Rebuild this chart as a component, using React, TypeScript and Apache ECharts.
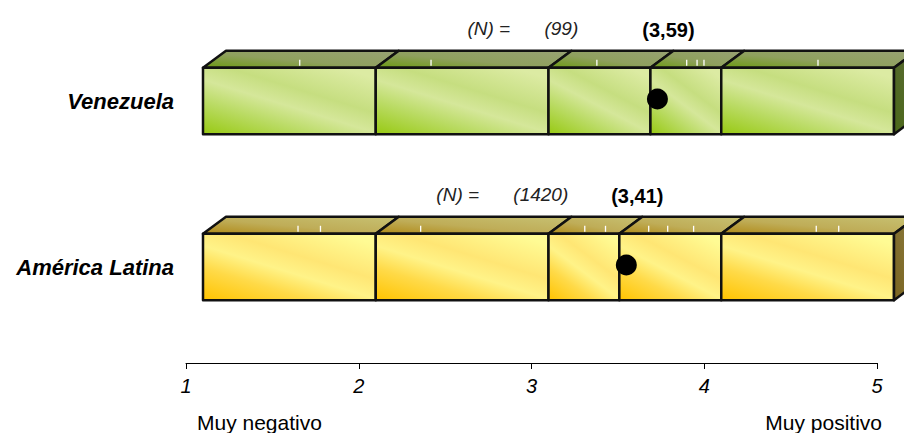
import React, { useEffect, useRef } from 'react';
import * as echarts from 'echarts';

// ---- data ----
const categories = ['América Latina', 'Venezuela'];
const boundaries = [1, 2, 3, 4, 5];
const means = [3.41, 3.59];
const nCounts = [1420, 99];
const topTicks = [
  [1.55, 1.68, 2.26, 3.21, 3.33, 3.58, 3.69, 3.84, 4.55, 4.68],
  [1.56, 2.32, 3.28, 3.8, 3.86, 3.9, 4.56],
];
const xTickValues = [1, 2, 3, 4, 5];
const scaleLabels = ['Muy negativo', 'Muy positivo'];

// ---- styles ----
const FONT = 'Liberation Sans, Arial, Helvetica, sans-serif';
const SHIFT = 17; // projection shift of the front face
const DX = 23;
const DY = 17;
const STROKE = '#111';
const LW = 2.5;

const grad = (x2: number, y2: number, stops: [number, string][]) => ({
  type: 'linear',
  x: 0,
  y: 1,
  x2,
  y2,
  colorStops: stops.map(([offset, color]) => ({ offset, color })),
});

const palettes = [
  {
    front: grad(0.8, 0, [
      [0, '#ffc300'],
      [0.3, '#ffda48'],
      [0.5, '#fff388'],
      [0.68, '#ffe674'],
      [1, '#fffb94'],
    ]),
    top: grad(1, 0, [
      [0, '#b08a18'],
      [0.45, '#bfad58'],
      [1, '#c7c172'],
    ]),
    side: grad(1, 0, [
      [0, '#7a6420'],
      [1, '#8c7c40'],
    ]),
  },
  {
    front: grad(0.8, 0, [
      [0, '#97c912'],
      [0.3, '#badb64'],
      [0.5, '#d5e79a'],
      [0.68, '#c6de80'],
      [1, '#dceba3'],
    ]),
    top: grad(1, 0, [
      [0, '#6c9a12'],
      [0.45, '#8fa05e'],
      [1, '#98a274'],
    ]),
    side: grad(1, 0, [
      [0, '#4a6818'],
      [1, '#5c6b38'],
    ]),
  },
];

function buildSegments() {
  const segs: number[][] = [];
  categories.forEach((_, row) => {
    const pts = [...boundaries, means[row]].sort((a, b) => a - b);
    for (let i = 0; i < pts.length - 1; i++) {
      segs.push([pts[i], pts[i + 1], row, i === pts.length - 2 ? 1 : 0]);
    }
  });
  return segs;
}

function buildTicks() {
  const t: number[][] = [];
  topTicks.forEach((arr, row) => arr.forEach((v) => t.push([v, row])));
  return t;
}

const fmt = (v: number) => v.toFixed(2).replace('.', ',');

export default function App() {
  const ref = useRef<HTMLDivElement>(null);

  useEffect(() => {
    if (!ref.current) return;
    const chart = echarts.init(ref.current, null, { renderer: 'svg' });

    const option: any = {
      animation: false,
      backgroundColor: '#fff',
      grid: { left: 186, right: 27, top: 18, bottom: 83 },
      xAxis: {
        type: 'value',
        min: 1,
        max: 5,
        interval: 1,
        offset: 13,
        splitLine: { show: false },
        axisLine: { show: true, lineStyle: { color: '#000', width: 1 } },
        axisTick: { show: true, length: 6, lineStyle: { color: '#000' } },
        axisLabel: {
          margin: 13,
          fontSize: 20,
          fontStyle: 'italic',
          color: '#000',
          fontFamily: FONT,
          formatter: (v: number) => (xTickValues.includes(v) ? String(v) : ''),
        },
      },
      yAxis: {
        type: 'category',
        data: categories,
        axisLine: { show: false },
        axisTick: { show: false },
        splitLine: { show: false },
        axisLabel: {
          margin: 12,
          fontSize: 22,
          fontWeight: 'bold',
          fontStyle: 'italic',
          color: '#000',
          fontFamily: FONT,
          padding: [28, 0, 0, 0],
        },
      },
      series: [
        {
          type: 'custom',
          name: 'boxes',
          data: buildSegments(),
          encode: { x: [0, 1], y: 2 },
          z: 2,
          renderItem: (params: any, api: any) => {
            const s = api.value(0);
            const e = api.value(1);
            const row = api.value(2);
            const last = api.value(3);
            const p1 = api.coord([s, row]);
            const p2 = api.coord([e, row]);
            const band = api.size([0, 1])[1];
            const h = band * 0.2;
            const x1 = p1[0] + SHIFT;
            const x2 = p2[0] + SHIFT;
            const yt = p1[1] - h;
            const yb = p1[1] + h;
            const pal = palettes[row];
            const children: any[] = [
              {
                type: 'polygon',
                shape: {
                  points: [
                    [x1, yt],
                    [x2, yt],
                    [x2 + DX, yt - DY],
                    [x1 + DX, yt - DY],
                  ],
                },
                style: { fill: pal.top, stroke: STROKE, lineWidth: LW, lineJoin: 'round' },
              },
              {
                type: 'rect',
                shape: { x: x1, y: yt, width: x2 - x1, height: yb - yt },
                style: { fill: pal.front, stroke: STROKE, lineWidth: LW, lineJoin: 'round' },
              },
            ];
            if (last) {
              children.push({
                type: 'polygon',
                shape: {
                  points: [
                    [x2, yt],
                    [x2 + DX, yt - DY],
                    [x2 + DX, yb - DY],
                    [x2, yb],
                  ],
                },
                style: { fill: pal.side, stroke: STROKE, lineWidth: LW, lineJoin: 'round' },
              });
            }
            return { type: 'group', children };
          },
        },
        {
          type: 'custom',
          name: 'ticks',
          data: buildTicks(),
          encode: { x: 0, y: 1 },
          z: 3,
          renderItem: (params: any, api: any) => {
            const p = api.coord([api.value(0), api.value(1)]);
            const h = api.size([0, 1])[1] * 0.2;
            const x = p[0] + SHIFT;
            const yt = p[1] - h;
            return {
              type: 'line',
              shape: { x1: x, y1: yt - 8, x2: x, y2: yt - 2 },
              style: { stroke: '#ffffff', lineWidth: 1.3 },
            };
          },
        },
        {
          type: 'scatter',
          name: 'media',
          data: means.map((m, row) => [m, row]),
          symbol: 'circle',
          symbolSize: 21,
          symbolOffset: [24, -2],
          itemStyle: { color: '#000', opacity: 1 },
          emphasis: { disabled: true },
          z: 4,
        },
        {
          type: 'custom',
          name: 'labels',
          data: means.map((m, row) => [m, row, nCounts[row]]),
          encode: { x: 0, y: 1 },
          z: 5,
          renderItem: (params: any, api: any) => {
            const m = api.value(0);
            const row = api.value(1);
            const n = api.value(2);
            const p = api.coord([m, row]);
            const x = p[0] + SHIFT;
            const yc = p[1];
            const base = { fontFamily: FONT, fill: '#222', verticalAlign: 'middle' };
            return {
              type: 'group',
              children: [
                {
                  type: 'text',
                  x: x - 183,
                  y: yc - 73,
                  style: { ...base, text: '(N) =', fontSize: 19, fontStyle: 'italic', align: 'left' },
                },
                {
                  type: 'text',
                  x: x - 106,
                  y: yc - 73,
                  style: { ...base, text: '(' + n + ')', fontSize: 19, fontStyle: 'italic', align: 'left' },
                },
                {
                  type: 'text',
                  x: x + 18,
                  y: yc - 71,
                  style: {
                    ...base,
                    fill: '#000',
                    text: '(' + fmt(m) + ')',
                    fontSize: 20,
                    fontWeight: 'bold',
                    align: 'center',
                  },
                },
              ],
            };
          },
        },
      ],
      graphic: [
        {
          type: 'text',
          x: 197,
          y: 422,
          style: {
            text: scaleLabels[0],
            fontSize: 21,
            fontFamily: FONT,
            fill: '#000',
            align: 'left',
            verticalAlign: 'middle',
          },
        },
        {
          type: 'text',
          x: 882,
          y: 422,
          style: {
            text: scaleLabels[1],
            fontSize: 21,
            fontFamily: FONT,
            fill: '#000',
            align: 'right',
            verticalAlign: 'middle',
          },
        },
      ],
    };

    chart.setOption(option);
    return () => chart.dispose();
  }, []);

  return (
    <div
      ref={ref}
      style={{ position: 'absolute', left: 0, top: 0, width: 904, height: 433 }}
    />
  );
}
